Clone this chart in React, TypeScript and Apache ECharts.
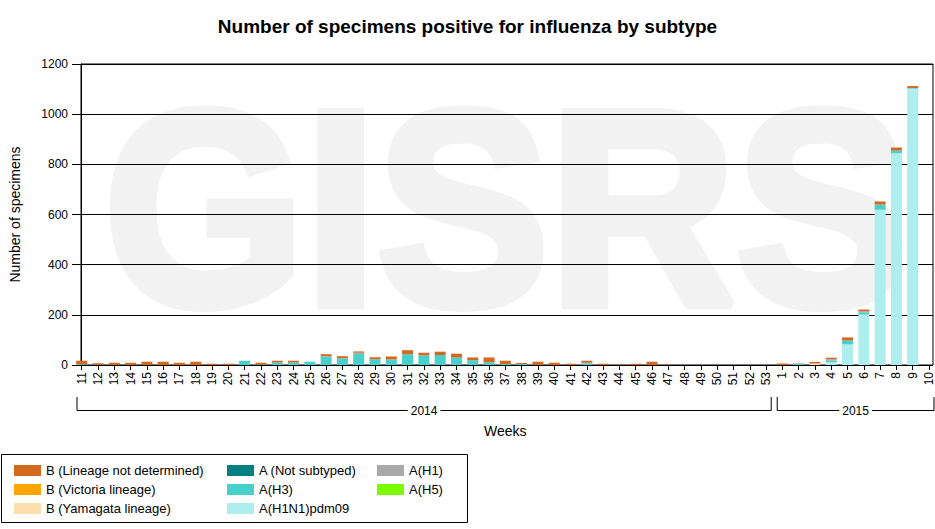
import React, { useEffect, useRef } from "react";
import * as echarts from "echarts";

// Week tick labels: 2014 weeks 11..53, then 2015 weeks 1..10
const weekLabels = [
  "11", "12", "13", "14", "15", "16", "17", "18", "19", "20",
  "21", "22", "23", "24", "25", "26", "27", "28", "29", "30",
  "31", "32", "33", "34", "35", "36", "37", "38", "39", "40",
  "41", "42", "43", "44", "45", "46", "47", "48", "49", "50",
  "51", "52", "53",
  "1", "2", "3", "4", "5", "6", "7", "8", "9", "10",
];

const yearLabels = ["2014", "2015"];
const yearFirstIdx = [0, 43];
const yearLastIdx = [42, 52];

const bLineageNotDetermined = [
  14, 6, 9, 9, 13, 13, 9, 13, 5, 5,
  0, 7, 7, 7, 0, 8, 8, 5, 8, 11,
  16, 9, 13, 15, 11, 19, 13, 4, 12, 9,
  5, 8, 5, 1, 5, 13, 1, 0, 0, 1,
  0, 0, 0,
  6, 1, 6, 6, 12, 7, 12, 12, 8, 0,
];
const bVictoria = [
  0, 0, 0, 0, 0, 0, 0, 0, 0, 0,
  0, 0, 0, 0, 0, 0, 0, 0, 0, 0,
  0, 0, 0, 0, 0, 0, 0, 0, 0, 0,
  0, 0, 0, 0, 0, 0, 0, 0, 0, 0,
  0, 0, 0,
  0, 0, 0, 0, 0, 0, 0, 0, 0, 0,
];
const bYamagata = [
  0, 0, 0, 0, 0, 0, 0, 0, 0, 0,
  0, 0, 0, 0, 0, 0, 0, 0, 0, 0,
  0, 0, 0, 0, 0, 0, 0, 0, 0, 0,
  0, 0, 0, 0, 0, 0, 0, 0, 0, 0,
  0, 0, 0,
  0, 0, 6, 0, 0, 0, 0, 0, 0, 0,
];
const aNotSubtyped = [
  0, 0, 0, 0, 0, 0, 0, 0, 0, 0,
  0, 0, 0, 0, 0, 0, 0, 0, 0, 0,
  0, 0, 0, 0, 0, 0, 0, 0, 0, 0,
  0, 0, 0, 0, 0, 0, 0, 0, 0, 0,
  0, 0, 0,
  0, 0, 0, 0, 0, 0, 0, 0, 0, 0,
];
const aH3 = [
  3, 1, 0, 0, 0, 0, 0, 0, 0, 0,
  17, 2, 10, 10, 13, 33, 27, 44, 23, 20,
  43, 36, 40, 30, 19, 11, 4, 4, 1, 0,
  0, 7, 0, 0, 0, 0, 0, 0, 0, 0,
  0, 0, 0,
  0, 4, 0, 6, 16, 9, 21, 11, 2, 0,
];
const aH1N1pdm09 = [
  0, 0, 0, 0, 0, 0, 0, 0, 0, 0,
  0, 0, 0, 0, 0, 0, 0, 0, 0, 0,
  0, 0, 0, 0, 0, 0, 0, 0, 0, 0,
  0, 0, 0, 0, 0, 0, 0, 0, 0, 0,
  0, 0, 0,
  0, 2, 0, 12, 82, 201, 619, 844, 1102, 0,
];
const aH1 = [
  0, 0, 0, 0, 0, 0, 0, 0, 0, 0,
  0, 0, 0, 0, 0, 2, 0, 5, 0, 3,
  0, 4, 0, 0, 0, 0, 0, 0, 0, 0,
  0, 2, 0, 0, 0, 0, 0, 0, 0, 0,
  0, 0, 0,
  0, 0, 0, 5, 0, 4, 0, 0, 0, 0,
];
const aH5 = [
  0, 0, 0, 0, 0, 0, 0, 0, 0, 0,
  0, 0, 0, 0, 0, 0, 0, 0, 0, 0,
  0, 0, 0, 0, 0, 0, 0, 0, 0, 0,
  0, 0, 0, 0, 0, 0, 0, 0, 0, 0,
  0, 0, 0,
  0, 0, 0, 0, 0, 0, 0, 0, 0, 0,
];

const FONT = "Liberation Sans, Arial, Helvetica, sans-serif";

export default function App() {
  const ref = useRef<HTMLDivElement>(null);

  useEffect(() => {
    document.body.style.margin = "0";
    const chart = echarts.init(ref.current!, null, { renderer: "svg" });

    // frame grid (visible box, y axis, grid lines)
    const FRAME_L = 77;
    const FRAME_R = 2;
    // bar grid: first/last category sit slightly inside the frame
    const BAR_L = 81.7;
    const BAR_R = 4.2;
    const TOP = 64;
    const BOTTOM = 164;

    // bottom -> top stacking order
    const seriesDefs = [
      { name: "A(H1N1)pdm09", data: aH1N1pdm09, color: "#AFEEEE" },
      { name: "A(H3)", data: aH3, color: "#48D1CC" },
      { name: "A(H1)", data: aH1, color: "#A9A9A9" },
      { name: "A(H5)", data: aH5, color: "#7CFC00" },
      { name: "A (Not subtyped)", data: aNotSubtyped, color: "#008080" },
      { name: "B (Yamagata lineage)", data: bYamagata, color: "#FFDEAD" },
      { name: "B (Victoria lineage)", data: bVictoria, color: "#FFA500" },
      { name: "B (Lineage not determined)", data: bLineageNotDetermined, color: "#D2691E" },
    ];

    const legendCommon = {
      orient: "vertical",
      top: 464,
      itemWidth: 27,
      itemHeight: 11,
      itemGap: 6,
      icon: "rect",
      padding: 0,
      selectedMode: false,
      textStyle: { fontSize: 13, color: "#000", fontFamily: FONT },
    };

    const watermark = {
      type: "text",
      id: "wm",
      x: 506,
      y: 208,
      scaleX: 0.93,
      z: -1,
      silent: true,
      style: {
        text: "GISRS",
        fill: "#f2f2f2",
        stroke: "#f2f2f2",
        lineWidth: 10,
        lineJoin: "round",
        fontSize: 278,
        fontWeight: "bold",
        fontFamily: FONT,
        align: "center",
        verticalAlign: "middle",
      },
    };

    chart.setOption({
      animation: false,
      textStyle: { fontFamily: FONT },
      title: {
        text: "Number of specimens positive for influenza by subtype",
        left: "center",
        top: 17,
        padding: 0,
        textStyle: { fontSize: 19, fontWeight: "bold", color: "#000", fontFamily: FONT },
      },
      grid: [
        {
          left: FRAME_L,
          right: FRAME_R,
          top: TOP,
          bottom: BOTTOM,
          show: true,
          borderColor: "#000",
          borderWidth: 1,
          backgroundColor: "transparent",
        },
        { left: BAR_L, right: BAR_R, top: TOP, bottom: BOTTOM },
      ],
      xAxis: [
        { type: "category", gridIndex: 0, data: weekLabels, show: false },
        {
          type: "category",
          gridIndex: 1,
          data: weekLabels,
          boundaryGap: false,
          name: "Weeks",
          nameLocation: "middle",
          nameGap: 59,
          nameTextStyle: { fontSize: 14, color: "#000", fontFamily: FONT },
          axisLine: { show: false },
          axisTick: { show: true, length: 5, lineStyle: { color: "#000" } },
          axisLabel: {
            show: true,
            interval: 0,
            rotate: 90,
            margin: 7,
            fontSize: 12,
            color: "#000",
            fontFamily: FONT,
          },
          splitLine: { show: false },
        },
      ],
      yAxis: [
        {
          type: "value",
          gridIndex: 0,
          min: 0,
          max: 1200,
          interval: 200,
          name: "Number of specimens",
          nameLocation: "middle",
          nameGap: 59,
          nameTextStyle: { fontSize: 14, color: "#000", fontFamily: FONT },
          axisLine: { show: true, onZero: false, lineStyle: { color: "#000" } },
          axisTick: { show: true, length: 9, lineStyle: { color: "#000" } },
          axisLabel: {
            fontSize: 12,
            margin: 13,
            color: "#000",
            fontFamily: FONT,
            formatter: (v: number) => String(v),
          },
          splitLine: { show: true, lineStyle: { color: "#000", width: 1 } },
        },
        { type: "value", gridIndex: 1, min: 0, max: 1200, interval: 200, show: false, splitLine: { show: false } },
      ],
      legend: [
        { ...legendCommon, left: 14, data: ["B (Lineage not determined)", "B (Victoria lineage)", "B (Yamagata lineage)"] },
        { ...legendCommon, left: 227, data: ["A (Not subtyped)", "A(H3)", "A(H1N1)pdm09"] },
        { ...legendCommon, left: 377, data: ["A(H1)", "A(H5)"] },
      ],
      series: seriesDefs.map((s) => ({
        type: "bar",
        name: s.name,
        xAxisIndex: 1,
        yAxisIndex: 1,
        stack: "total",
        barWidth: 11,
        clip: false,
        data: s.data,
        itemStyle: { color: s.color },
        emphasis: { disabled: true },
        silent: true,
      })),
      graphic: [watermark],
    });

    const px = (i: number) => chart.convertToPixel({ xAxisIndex: 1 }, i) as number;
    const W = chart.getWidth();
    const gLeft = FRAME_L;
    const gRight = W - FRAME_R;
    const graphics: any[] = [watermark];
    yearLabels.forEach((yl, k) => {
      const first = yearFirstIdx[k];
      const last = yearLastIdx[k];
      const prevMid = first > 0 ? (px(first - 1) + px(first)) / 2 : -Infinity;
      const nextMid = last < weekLabels.length - 1 ? (px(last) + px(last + 1)) / 2 : Infinity;
      const L = Math.max(gLeft, prevMid + 3);
      const R = Math.min(gRight + 1, nextMid - 3);
      graphics.push({
        type: "polyline",
        id: "br" + k,
        silent: true,
        shape: { points: [[L, 397], [L, 410.5], [R, 410.5], [R, 397]] },
        style: { stroke: "#000", lineWidth: 1, fill: null },
      });
      graphics.push({
        type: "text",
        id: "yr" + k,
        silent: true,
        x: (L + R) / 2,
        y: 410.5,
        style: {
          text: yl,
          fontSize: 12,
          fontFamily: FONT,
          fill: "#000",
          align: "center",
          verticalAlign: "middle",
          backgroundColor: "#fff",
          padding: [0, 3],
        },
      });
    });
    graphics.push({
      type: "rect",
      id: "legendBox",
      silent: true,
      shape: { x: 1.5, y: 454.5, width: 466, height: 68 },
      style: { stroke: "#000", lineWidth: 1, fill: null },
    });
    chart.setOption({ graphic: graphics });

    return () => chart.dispose();
  }, []);

  return <div ref={ref} style={{ width: 935, height: 529 }} />;
}
